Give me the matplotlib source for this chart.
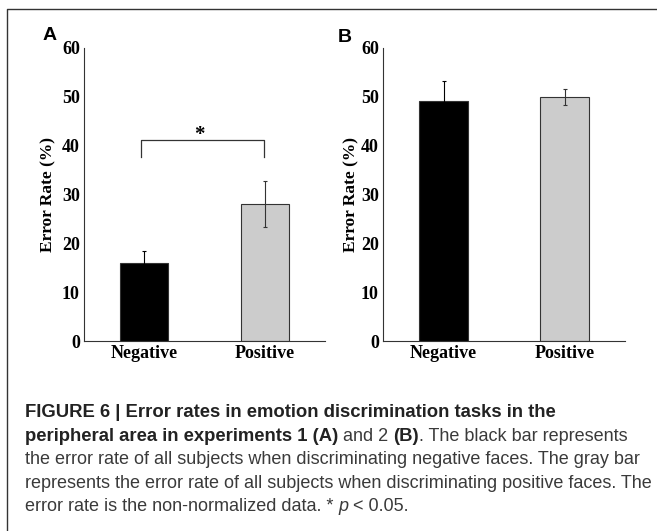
import matplotlib
matplotlib.use('Agg')
import matplotlib.pyplot as plt
from matplotlib.lines import Line2D

# data
categories = ['Negative', 'Positive']
rates_a = [16.0, 28.1]
errors_a = [2.4, 4.7]
rates_b = [49.2, 49.9]
errors_b = [4.0, 1.65]
yticks = [0, 10, 20, 30, 40, 50, 60]
bar_colors = ['black', '#cccccc']
err_colors = ['black', '#333333']

caption_lines = [
    [('FIGURE 6 | Error rates in emotion discrimination tasks in the', 'bold', 'normal')],
    [('peripheral area in experiments 1 (A)', 'bold', 'normal'),
     (' and 2 ', 'normal', 'normal'),
     ('(B)', 'bold', 'normal'),
     ('. The black bar represents', 'normal', 'normal')],
    [('the error rate of all subjects when discriminating negative faces. The gray bar', 'normal', 'normal')],
    [('represents the error rate of all subjects when discriminating positive faces. The', 'normal', 'normal')],
    [('error rate is the non-normalized data. * ', 'normal', 'normal'),
     ('p', 'normal', 'italic'),
     (' < 0.05.', 'normal', 'normal')],
]

W, H = 657, 531
fig = plt.figure(figsize=(W / 100, H / 100), dpi=100)
serif = 'Liberation Serif'
sans = 'Liberation Sans'


def px_axes(left, top, right, bottom):
    return fig.add_axes([left / W, 1 - bottom / H, (right - left) / W, (bottom - top) / H])


def draw_panel(ax, rates, errors, ylabel_x):
    x = list(range(len(categories)))
    ax.bar(x, rates, width=0.4, color=bar_colors, edgecolor='#333333', linewidth=0.8, zorder=2)
    for xi, r, e, c in zip(x, rates, errors, err_colors):
        ax.errorbar([xi], [r], yerr=[e], fmt='none', ecolor=c, elinewidth=0.8,
                    capsize=1.5, capthick=0.8, zorder=3)
    ax.set_xlim(-0.5, 1.5)
    ax.set_ylim(0, 60)
    ax.set_yticks(yticks)
    ax.set_yticklabels([str(t) for t in yticks], fontfamily=serif, fontweight='bold', fontsize=13)
    ax.set_xticks(x)
    ax.set_xticklabels(categories, fontfamily=serif, fontweight='bold', fontsize=13)
    for s in ['top', 'right']:
        ax.spines[s].set_visible(False)
    for s in ['left', 'bottom']:
        ax.spines[s].set_color('#333333')
        ax.spines[s].set_linewidth(0.8)
    ax.tick_params(length=0, pad=3, colors='black')
    ax.text(ylabel_x, 0.5, 'Error Rate (%)', transform=ax.transAxes, rotation=90,
            ha='center', va='center', fontfamily=serif, fontweight='bold', fontsize=12.5)


ax_a = px_axes(84, 48, 325, 341)
ax_b = px_axes(383, 48, 625, 341)
draw_panel(ax_a, rates_a, errors_a, -0.148)
draw_panel(ax_b, rates_b, errors_b, -0.132)

# significance bracket on panel A
ax_a.plot([-0.03, -0.03, 0.99, 0.99], [37.7, 41.2, 41.2, 37.7], color='#333333', lw=0.9)
ax_a.text(0.46, 42.2, '*', ha='center', va='center', fontfamily=serif, fontweight='bold', fontsize=15)

fig.text(50 / W, 1 - 36 / H, 'A', ha='center', va='center', fontfamily=sans, fontweight='bold', fontsize=14)
fig.text(345 / W, 1 - 37 / H, 'B', ha='center', va='center', fontfamily=sans, fontweight='bold', fontsize=14)

# frame (top and left edges)
fig.add_artist(Line2D([7 / W, 7 / W, 1], [0, 1 - 9 / H, 1 - 9 / H], transform=fig.transFigure,
                      color='#333333', lw=1.0))

# caption with mixed weights
renderer = fig.canvas.get_renderer()


def seg_width(s, weight, style, size):
    t1 = fig.text(0, 0, 'x' + s + 'x', fontfamily=sans, fontweight=weight, fontstyle=style, fontsize=size)
    t2 = fig.text(0, 0, 'xx', fontfamily=sans, fontweight=weight, fontstyle=style, fontsize=size)
    w = t1.get_window_extent(renderer).width - t2.get_window_extent(renderer).width
    t1.remove()
    t2.remove()
    return w


# size the caption so lines span the same width as in the original
cap_size = 11 * 623 / seg_width(caption_lines[3][0][0], 'normal', 'normal', 11)
bold_size = 11 * 533 / seg_width(caption_lines[0][0][0], 'bold', 'normal', 11)
baselines = [417, 441, 464, 488, 511]
for line, yb in zip(caption_lines, baselines):
    xp = 25
    for s, weight, style in line:
        size = bold_size if weight == 'bold' else cap_size
        color = '#222222' if weight == 'bold' else '#3a3a3a'
        fig.text(xp / W, 1 - yb / H, s, ha='left', va='baseline', fontfamily=sans,
                 fontweight=weight, fontstyle=style, fontsize=size, color=color)
        xp += seg_width(s, weight, style, size)

fig.savefig('out.png', dpi=100)
